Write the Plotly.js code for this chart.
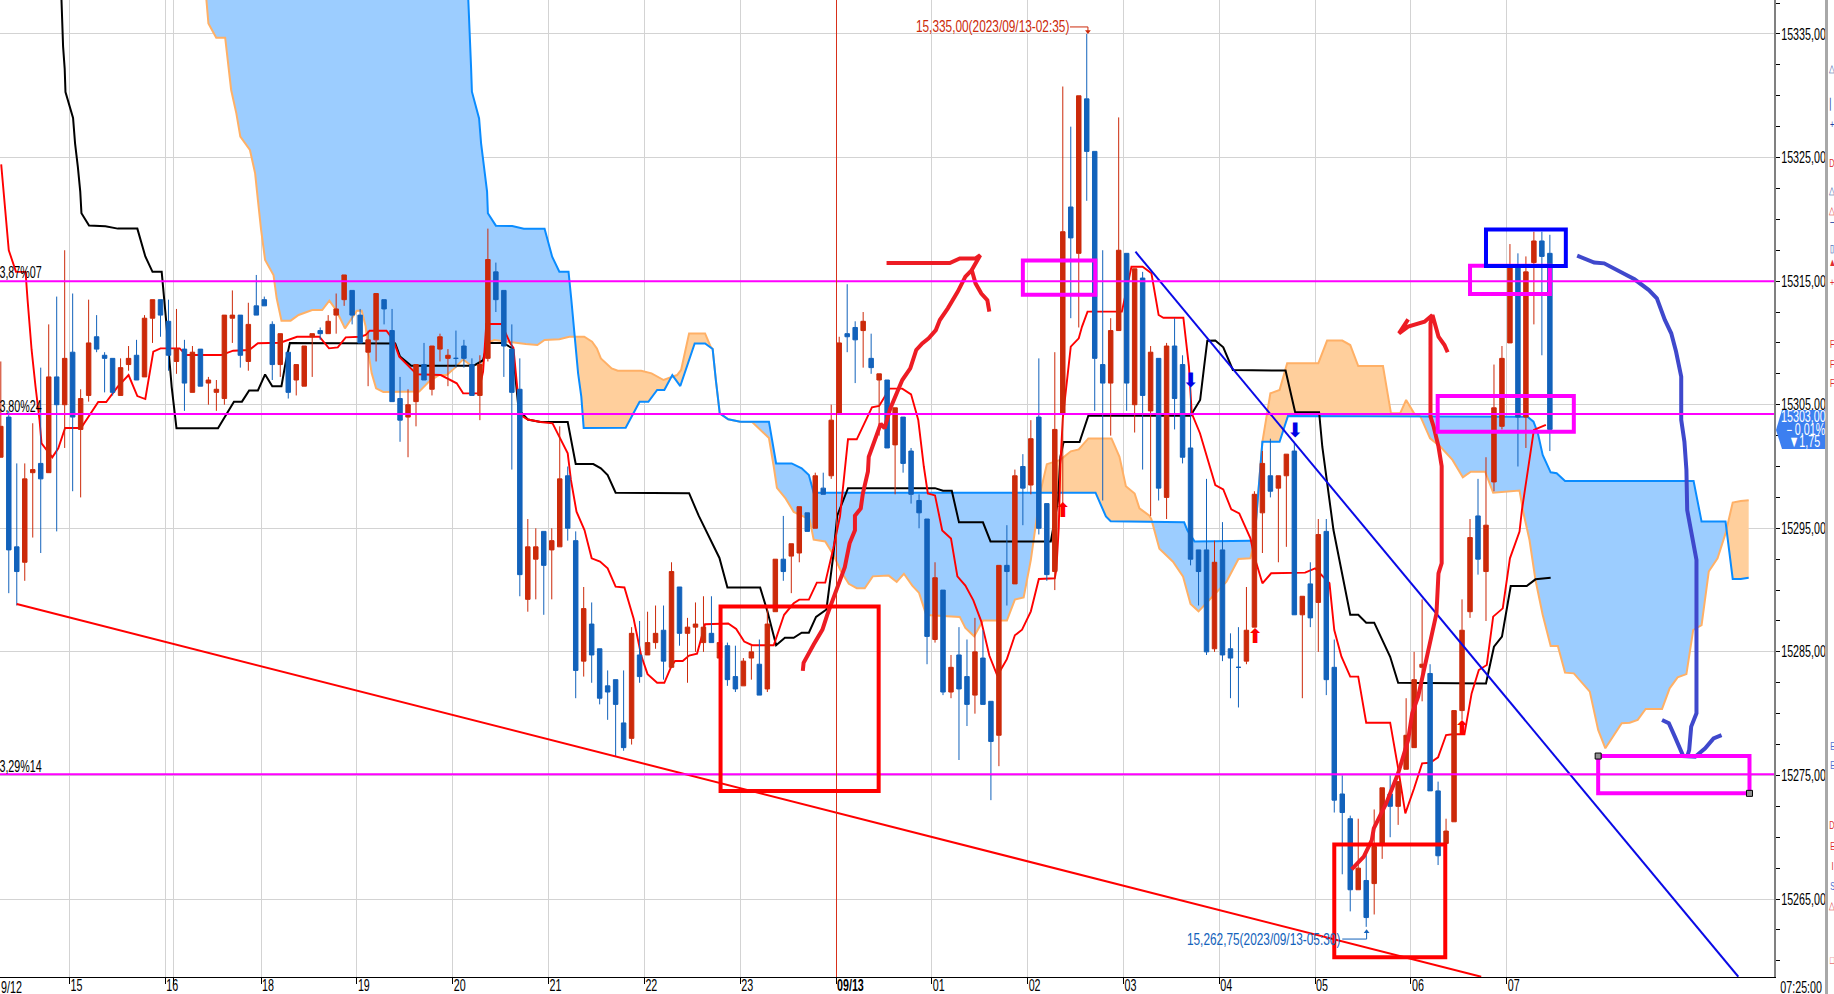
<!DOCTYPE html>
<html><head><meta charset="utf-8">
<script src="https://cdn.plot.ly/plotly-3.0.1.min.js"></script>
<style>html,body{margin:0;padding:0;background:#fff;overflow:hidden}#c{width:1834px;height:994px}</style>
</head><body><div id="c"></div>
<script>
const candleOpen=[15300.75,15304,15293.5,15292.25,15299.5,15300.25,15299.5,15307.25,15305,15309.25,
15303,15305.75,15310.5,15309,15308.75,15305.75,15308.25,15309,15307.25,15312,
15313.5,15311.75,15308.5,15309.5,15306,15309.5,15306.75,15306,15305.5,15312,
15312.25,15308.5,15313,15313.5,15311.5,15308.25,15309.25,15307,15306.5,15310.5,
15311,15310.75,15312.25,15313.5,15314.25,15312.25,15309.25,15310.25,15313.5,15311,
15305.5,15304,15305.25,15308.25,15306.25,15309.5,15308.75,15308.75,15309.75,15308.25,
15305.75,15308.75,15315.75,15314.25,15309.5,15306.25,15289.25,15292.5,15294.75,15293.25,
15293.5,15299.25,15294,15284.25,15287.25,15285.25,15282.25,15282.75,15279.25,15278,
15284.75,15284.75,15285.75,15286.75,15283.75,15290.25,15286.5,15287,15285.75,15286.5,
15284.5,15285.5,15283,15282.25,15284.5,15284,15282,15288.25,15292.5,15292.75,
15293,15296.25,15295,15298.25,15299.25,15304.25,15310.75,15311.25,15311,15308.75,
15307,15307,15301.75,15304,15301.25,15297.25,15295.75,15286,15290,15281.75,
15284.75,15283,15281.5,15284.5,15281,15278.25,15292,15290.5,15300,15298.5,
15304,15297,15291.5,15304.25,15321,15317.25,15329.75,15325.5,15308.25,15306.75,
15311,15317.25,15305,15315.25,15304.5,15308.75,15297.5,15309.75,15308.25,15301.5,
15293.25,15293.25,15285.25,15293.25,15285.25,15283.75,15284.25,15287,15296.25,15299.25,
15298.25,15299.25,15301.25,15288,15290.5,15289,15294.75,15283.75,15273.5,15271.5,
15265.75,15266.5,15266.25,15269.5,15273.5,15272.5,15275.5,15277.25,15283.75,15283.25,
15273.75,15269.5,15271.25,15280.25,15288.25,15296,15291.5,15298.75,15303.25,15310,
15316.25,15304,15316.5,15318.25,15317.25];
const candleHigh=[15308.5,15304.5,15300.25,15300.25,15303.5,15308,15311.5,15313.75,15317.5,15314,
15306.25,15313.5,15312.25,15309.25,15308.75,15308.75,15309.75,15310.25,15312.25,15313.5,
15313.5,15313.5,15312.75,15310.25,15309.75,15309.5,15307.25,15307,15312.25,15314.25,
15312.25,15313.25,15315.5,15313.75,15311.75,15310.75,15309.25,15308.25,15309.75,15310.75,
15311.25,15312.25,15314,15315.5,15314.25,15312.75,15311,15314,15313.5,15312.75,
15307.25,15306.25,15308.25,15310,15309.75,15310.75,15309.5,15311,15310.25,15308.75,
15309,15319.25,15316.5,15314.25,15311.5,15308.75,15295.75,15295,15294.75,15295,
15303.25,15300,15294.75,15290.25,15289,15285.25,15283.5,15282.75,15283.5,15287,
15287.5,15288.25,15288.75,15288.75,15292.25,15290.25,15287.75,15289,15289.5,15289.5,
15285.75,15285.75,15285.5,15284.5,15285.5,15286,15288.5,15292.5,15296,15293.75,
15296.75,15296.25,15299.5,15299.5,15305,15310.5,15314.75,15311.75,15312.5,15310.75,
15307.5,15307,15304.75,15304,15301.5,15297.75,15295.75,15292.25,15290,15284.75,
15287,15286,15287.75,15286.75,15281,15292,15295.25,15299.75,15301,15303.75,
15308.75,15297,15309.25,15330.75,15327.5,15330,15335,15325.5,15317.5,15312,
15328.25,15317.25,15316,15315.75,15309.75,15308.75,15310,15312,15309,15306.75,
15293.25,15299,15294,15295.5,15286.5,15287,15290.25,15298,15301.25,15302.25,
15299.25,15301,15302,15289.5,15292.25,15295.75,15295.75,15286,15275,15271.75,
15271.5,15268.75,15272.25,15274,15275,15274.5,15281.25,15285,15289.25,15284,
15274.5,15271.5,15280.25,15289.25,15295.75,15299,15300.75,15308.25,15309.75,15318,
15317.25,15317,15319,15319,15318.75];
const candleLow=[15300.75,15289.75,15288.75,15290.75,15294.25,15293,15299.5,15294.75,15301.5,15298,
15297.5,15305.25,15309.25,15306,15305.75,15305.75,15307.75,15307,15307.25,15310,
15310.5,15307.75,15307.5,15304.5,15306,15306.5,15305,15304.5,15305,15310,
15308,15307.75,15312.25,15313,15307,15307.25,15305.5,15305.75,15306.5,15307.25,
15310.25,15310.75,15310.75,15313,15311.5,15310,15306.5,15308.5,15311.5,15305.25,
15302,15300.75,15303.25,15307,15305.75,15308.5,15306.5,15308,15308,15305.75,
15303.75,15308.5,15312.5,15307.25,15299.75,15289.5,15288.25,15289.25,15288,15289.25,
15293.5,15294,15281.25,15283,15282.5,15280.75,15279.5,15276.5,15277,15277.5,
15282.5,15284.75,15285.25,15282.75,15283.75,15285.5,15282.5,15285,15285,15285.75,
15284.5,15282.25,15281.75,15282.25,15282.75,15281.5,15281.75,15288.25,15290.75,15289.75,
15292.25,15294.75,15295,15297.75,15299,15304.25,15309.25,15306.75,15308,15307.5,
15302.5,15301.5,15297.75,15299.5,15297,15295,15284,15285.75,15281.5,15281.25,
15276.25,15279,15280,15280.75,15273,15275.75,15288.75,15290.5,15295.25,15297.75,
15294.5,15290.75,15290,15296.75,15312,15311.25,15321.5,15304.5,15297.25,15302.5,
15311,15304.5,15302.75,15299.75,15296,15297.25,15295.75,15303,15300.25,15292,
15288.75,15284.75,15285,15284.25,15281.25,15280.5,15284,15287,15293,15297.5,
15292.25,15293.5,15288,15281.25,15287,15285,15281.5,15272,15267,15264,
15265.75,15262.75,15263.75,15268.25,15270,15271,15275.5,15277.25,15281,15273.75,
15267.75,15269.5,15271.25,15279.5,15287.75,15291.25,15287.5,15298,15303,15310,
15300,15301.5,15311.5,15309,15301.25];
const candleClose=[15303.25,15293.25,15291.5,15299,15299.75,15299,15307.25,15305,15308.75,15304,
15305.5,15310,15309.5,15308.75,15306,15308,15308.75,15307,15312,15313.5,
15312.25,15309,15309.5,15306.75,15309.25,15306.5,15307,15306.25,15312.25,15312.25,
15309,15311.5,15312.25,15313,15308.25,15310.75,15306,15308.25,15309.75,15310.75,
15310.75,15311.75,15312.75,15315.5,15312.25,15310,15310.25,15314,15312.75,15305.25,
15303.75,15305,15308.25,15307,15309.75,15310.5,15309,15308.75,15308.75,15305.75,
15308.25,15316.75,15313.5,15309.75,15306,15291.25,15293.5,15293.5,15292,15294,
15299,15295,15283.5,15288.5,15284.75,15281.25,15281.75,15280.75,15277.25,15286.5,
15283,15285.75,15286.5,15284.25,15291.5,15286.5,15287,15287.25,15287,15285.75,
15285.75,15282.75,15282,15284.25,15285,15281.5,15287.25,15292.5,15291.5,15293.75,
15296.75,15294.75,15299.25,15297.75,15303.75,15310,15310.5,15310.25,15311.75,15308,
15307.5,15301.5,15304.75,15300.25,15297.75,15296.25,15286.25,15291,15281.75,15283.75,
15282,15280.75,15285,15280.75,15277.75,15292,15291.5,15299.25,15298.25,15302.25,
15295,15291.25,15303,15319,15318.5,15330,15325.5,15308.75,15306.75,15311,
15317.5,15306.75,15316,15305.75,15309.25,15298.25,15309.75,15305.5,15300.75,15292.5,
15291.5,15285,15292.25,15284.75,15284.5,15283.75,15286.75,15297.75,15300.25,15298,
15299.25,15301,15288,15289.5,15287.75,15294.5,15282.75,15273,15272,15265.75,
15267.5,15263.5,15269.25,15274,15272.5,15274.5,15278.25,15282.75,15284,15273.75,
15268.5,15270.5,15280.25,15286.75,15294.25,15292.5,15295.25,15304.75,15308.75,15316.25,
15304,15315.75,15318.25,15317,15303];

const kijunBar=[7.6,7.7,7.8,8,8.1,9.05,9.3,9.65,9.95,10.1,11.05,13.1,14.65,17.1,18.1,19,20.15,20.7,21.1,21.4,22,27.2,29.2,30.2,31.1,32.2,33.1,34,35.15,35.65,36.2,48.7,49.4,50,51.4,59.2,60.4,60.95,62.9,64.1,64.5,64.85,66,67.6,71,72,74.2,75.15,76,77,86.2,87.4,90,91,95.1,96,97.1,98.2,99.3,100.3,101.2,102.1,103.4,104.25,104.75,106.1,117,118,119.1,120,123,123.95,131.5,132.4,132.7,133.1,135.1,136.2,149,150.2,150.7,151.1,152.1,153.1,154.3,160.9,162.1,165.1,165.5,166.1,166.9,169,170,171,172,174,175,186,187,188,189.1,191.1,192.2,194.1];
const kijunPrice=[15337.75,15335.8,15334,15332.2,15330.3,15328.2,15326.15,15324.25,15322.25,15320.5,15319.5,15319.45,15319.25,15319.25,15317,15315.75,15315.75,15311.85,15308.35,15306.45,15303.1,15303.1,15305.25,15305.25,15306.15,15306.15,15307.45,15306.5,15306.5,15308.35,15310,15310,15309.96,15308.9,15308.15,15308.15,15308.6,15310,15310,15309.55,15307,15304.6,15303.8,15303.6,15303.6,15300.2,15300.2,15299.85,15299.3,15297.88,15297.84,15296.02,15292.6,15290.2,15290.2,15288.3,15285.54,15286.14,15286.14,15286.55,15286.55,15287.83,15288.43,15292.75,15296.02,15298.25,15298.25,15298.04,15298.04,15295.48,15295.48,15293.94,15293.94,15297.21,15300.78,15301.98,15301.98,15304.11,15304.11,15305.38,15308.08,15310.18,15310.2,15309.65,15307.81,15307.76,15304.39,15304.39,15301.6,15298.64,15294.86,15288,15288,15287.36,15287.36,15284.6,15282.5,15282.45,15285.42,15286.23,15290.33,15290.33,15290.87,15291];

const tenkanBar=[0.05,0.4,0.65,1,1.9,3.1,3.35,3.86,4.35,4.85,5.1,6.45,7.2,8.05,10.05,12.2,13.2,14.65,16,17.1,18.1,18.5,19.1,20,22.4,23.2,27.6,29.1,31.1,32.2,35,37.1,39.9,41.1,42.2,43.2,45.05,45.7,46.2,48.3,49.15,49.9,51.4,52.1,55.1,57.1,57.9,59.8,60.4,60.8,62.7,63.8,64.2,65,66,67.6,69.1,69.95,71,71.4,72.1,73.1,74,75.05,76,77,78.1,79.25,80.2,81,82.2,83.1,84,84.45,85.4,86.2,87.2,88.2,91.1,92.1,93.1,94.1,96.8,98.1,99.3,100,101.2,102.2,103.25,104.25,105.1,106.1,107.2,109.1,110,111.3,112.9,114,114.9,115.6,116.1,117,117.9,119,119.8,120.8,121.8,122.8,123.8,124.8,126,127,127.9,129,130,132,132.2,132.5,132.7,133,134,135,135.4,136.1,140.4,141.6,143,144.1,145,145.6,148.1,148.8,149.15,150.18,151.2,152.1,153.1,154.1,155.1,156.5,157,158,159.1,163.35,164.6,166.4,167,167.9,169,170,171,174,175,175.9,177,178,179,180,181,181.8,183.3,184.2,185.1,186.1,186.9,188.1,189,190.2,190.5,191.2,192,193.2,193.5];
const tenkanPrice=[15324.45,15321.85,15319.4,15317.5,15315.75,15315.75,15313.5,15309.43,15306.46,15303.76,15301.88,15300.74,15301.47,15303.12,15303.12,15305.22,15305.22,15306.46,15307.4,15305.7,15305.46,15307.13,15309.29,15309.56,15309.56,15309.02,15309.02,15309.37,15309.43,15309.97,15310.02,15310.5,15310.5,15309.56,15309.64,15310.45,15310.5,15310.64,15310.99,15310.99,15310.24,15308.89,15307.94,15307.46,15307.4,15306.73,15305.92,15305.92,15307.67,15311.53,15311.53,15309.97,15309.6,15304.2,15303.8,15303.6,15303.49,15302.41,15301.07,15298.91,15296.34,15294.86,15292.57,15292.3,15291.76,15290.28,15290.21,15287.7,15284.7,15283.2,15282.5,15282.5,15283.87,15284.26,15284.26,15284.7,15284.86,15287.24,15287.3,15286.85,15285.84,15285.54,15285.54,15288,15288.93,15289.23,15289.23,15290.6,15290.6,15293.34,15295.96,15302.2,15302.2,15304.79,15304.9,15306.3,15306.3,15305.84,15303.76,15299.98,15297.82,15297.66,15294.83,15294.17,15291.11,15290.36,15289.17,15287.45,15284.7,15283.07,15284.41,15286.34,15286.79,15288.28,15290.9,15290.96,15291.7,15295.13,15300.19,15303.9,15309.7,15310.37,15311.3,15312.53,15312.53,15316.17,15316.17,15315.63,15312.26,15312.04,15312.04,15308.08,15304.3,15302.69,15300.53,15298.5,15298.15,15296.54,15296.21,15294.19,15292.7,15290.55,15291.36,15291.41,15291.76,15290.55,15286.77,15284.61,15283,15283,15279.27,15279.27,15275.57,15271.93,15273.96,15275.98,15276.03,15276.46,15278.27,15278.33,15278.33,15281.64,15283.53,15283.94,15287.85,15288.52,15292.57,15294.73,15296.48,15299.45,15302.96,15303.28,15303.36];

const cloudBlueBar=[25.5,58.4,58.55,58.7,58.8,58.9,59,59.9,60.15,60.5,60.9,61,62,64.05,65.5,68.1,69.05,69.95,71.1,71.45,71.8,72.3,72.7,73,78.26,80,81.1,82.2,83.1,84.1,85.1,86.9,88.2,89.15,89.55,90.04,91.1,92.6,96.2,97.1,99.05,100.3,101.2,101.8,137.1,137.9,138.4,139,144.1,148.2,148.6,149.5,156.5,157,158,160.15,161.2,186.6,191.2,191.95,192.5,193.1,194.1,194.85,195.9,212,213,216,216.9,217.9,218.9];
const cloudBluePrice=[15345,15345,15337.75,15335.86,15333.97,15332.22,15330.33,15328.17,15326.15,15324.26,15322.24,15320.5,15319.49,15319.46,15319.24,15319.24,15316.98,15315.76,15315.76,15313.5,15311.05,15307.54,15305.65,15303.12,15303.14,15305.24,15305.24,15306.19,15306.19,15307.4,15306.51,15309.96,15309.96,15309.51,15307,15304.3,15303.82,15303.63,15303.63,15300.25,15300.25,15299.85,15299.31,15297.88,15297.88,15296.74,15295.96,15295.57,15295.51,15295.48,15294.83,15293.94,15294,15294,15302,15302,15304.09,15304.09,15304.03,15303.63,15302.69,15300.93,15299.53,15299.45,15298.83,15298.83,15295.54,15295.54,15290.9,15290.9,15291];
const cloudOrangeBar=[25.5,25.75,26,26.98,28.1,28.5,28.85,29.5,30,31.2,31.85,32.2,32.6,33.1,34.15,34.55,35.15,36.3,37.3,39,40.25,41.15,42,43.1,44.6,45.2,45.7,46.05,46.45,47,47.9,52.4,53.6,54.85,55.85,56.8,57.9,58.8,60.3,60.8,61.8,65.75,67.2,68.1,69.95,71.2,73.07,74.05,74.65,75.15,76.5,77.27,80.2,81.5,83,84.7,85.2,86.2,88.2,88.9,89.15,89.55,90.04,91.1,92.6,94.1,96.2,96.8,97.2,98.3,99.3,101.3,101.8,103.25,104.25,105.2,106.2,107.2,108.2,109.2,111.2,112.2,113.1,114.15,115,115.9,118.35,120.1,120.8,121.9,123,126,127,128.1,129,129.5,130.2,131,132.7,134,135,136.2,139.1,140.1,140.9,142,142.6,143.85,144.1,145.1,146.8,148.05,149,150,153.5,155,156.5,157,158,159,160.15,161.1,165,166.1,168,169,170,173.1,174.1,175.25,176,177,177.8,179,180.3,181.8,183.1,184.1,185.9,186.9,190.2,190.7,191.45,192.2,193.1,194.1,195,195.9,197,199,200.05,200.95,203,204,205,206,208.05,209,210,211.1,211.95,213,213.9,215,216,216.9,217.9,218.9];
const cloudOrangePrice=[15345,15337.75,15335.86,15334.7,15334.7,15332.6,15330.47,15328.58,15326.69,15325.61,15323.72,15321.56,15319.14,15316.71,15315.5,15313.61,15311.8,15311.8,15312.26,15312.66,15312.66,15313.42,15312.66,15311.18,15312.6,15312.6,15311.32,15309.16,15307.54,15306.33,15306.03,15306.06,15306.86,15307.4,15307.4,15307.94,15308.67,15308.21,15308.21,15309.97,15310.24,15309.91,15309.83,15310.24,15310.29,15310.5,15310.5,15310.1,15309.56,15308.75,15307.94,15307.75,15307.75,15307.54,15307,15307.4,15307.81,15310.77,15310.77,15309.69,15309.51,15307,15304.3,15303.82,15303.63,15303.6,15302.3,15300,15298.27,15297.4,15296.33,15295.72,15294.08,15293.94,15292.89,15291.55,15290.51,15290.15,15290.15,15291.11,15291.17,15290.66,15291.32,15290.36,15289.77,15287.98,15287.89,15287.83,15286.94,15286.26,15287.53,15287.53,15289.23,15289.41,15292.45,15294.83,15297.95,15300.19,15300.54,15301.23,15301.38,15302.27,15302.27,15300.78,15298.4,15297.81,15296.62,15296.02,15295.72,15293.34,15292.3,15291.11,15288.87,15288.28,15290.68,15292.52,15292.57,15294,15302,15305.92,15306.19,15308.35,15308.35,15310.19,15310.19,15309.83,15308.13,15308.13,15304.3,15304.3,15305.38,15304.3,15304.03,15302.28,15301.6,15300.53,15299.12,15299.58,15299.58,15297.88,15298.05,15296.21,15294.05,15290.82,15288,15285.48,15285.48,15283.32,15283.26,15281.78,15278.68,15277.2,15279.22,15279.27,15279.5,15280.38,15280.38,15282.05,15282.94,15283.2,15286.77,15287.17,15291.5,15292.57,15294.59,15297.08,15297.21,15297.26];

const hourBars=[8.6,20.6,21.6,32.6,44.6,56.6,68.6,80.6,92.6,104.6,116.6,128.6,140.6,152.6,164.6,176.6,188.6];
const hourLabels=["15","16","","18","19","20","21","22","23","<b>09/13</b>","01","02","03","04","05","06","07"];
const priceTicks=[15265,15275,15285,15295,15305,15315,15325,15335];
const priceLabels=["15265,00","15275,00","15285,00","15295,00","15305,00","15315,00","15325,00","15335,00"];
const levelPrices=[15315,15304.25,15275.1];
const levelTexts=["3,87%07","3,80%24","3,29%14"];

const redTrendBar=[2,185.4], redTrendPrice=[15288.87,15258.71];
const blueTrendBar=[142.1,217.6], blueTrendPrice=[15317.38,15258.71];
const buyBar=[133,157.1,183], buyPrice=[15296.34,15286.1,15278.7];
const sellBar=[149,162.1], sellPrice=[15306.86,15302.82];

const red1Bar=[100.44,100.54,101.8,102.9,103.5,104.75,105.7,106.3,106.97,106.97,107.7,107.96,108.6,108.7,109.3,110.2,110.68,111.4,112.9,113.9,114.65,115.4,116.2,117.1,117.6,118.6,119.85,120.8,121.6,122.07,122.8,123.55,123.8];
const red1Price=[15283.46,15284.11,15285.6,15286.8,15288,15290.07,15291.85,15293.79,15294.83,15296.02,15296.61,15297.81,15299.59,15300.78,15301.82,15303.46,15303.09,15304.7,15307,15307.94,15309.43,15309.96,15310.37,15311.04,15311.85,15312.8,15314.15,15315.36,15315.9,15314.82,15314,15313.47,15312.53];
const red1HeadBar=[110.93,118.85,120.1,122.07,122.66,121.6], red1HeadPrice=[15316.47,15316.47,15316.84,15316.84,15317.1,15315.9];
const red2Bar=[169.17,170.7,171.7,171.95,173.5,175,176.25,176.76,177.5,178.5,179.1,179.3,179.8,180.05,180.45,180.45,180.05,179.45,179.05,179.05,179.3,180.05,180.8,181.2];
const red2Price=[15267.4,15268.43,15269.77,15270.72,15272.74,15275.17,15277.87,15280.03,15281.37,15284.34,15285.96,15286.5,15288.12,15291.36,15292.17,15300.03,15301.61,15303.22,15304.03,15311.59,15312.26,15310.51,15309.83,15309.24];
const red2HeadBar=[179.3,178.3,176.25,175.1,176.25], red2HeadPrice=[15312.26,15311.72,15311.32,15310.78,15311.9];
const violetBar=[197.42,198.8,199.55,200.8,202.35,204.6,206.4,207.4,208.4,209.2,209.8,210.45,210.45,210.85,211.1,211.2,211.7,212.36,212.36,211.7,211.45,211.2];
const violetPrice=[15317.06,15316.71,15316.5,15316.44,15315.9,15315.15,15314.28,15313.61,15311.86,15310.78,15309.3,15307.27,15303.77,15302.01,15299.72,15296.48,15294.73,15292.44,15280.03,15278.95,15277.06,15276.52];
const violetTailBar=[208.05,208.9,209.65,210.2,210.7,212.2,213.45,214.5,215.5];
const violetTailPrice=[15279.49,15279.22,15278.14,15277.33,15276.57,15276.52,15277.2,15278,15278.27];
const highNoteBar=[133.9,136.15,136.15], highNotePrice=[15335.57,15335.57,15335.2];
const lowNoteBar=[168,171.05,171.05], lowNotePrice=[15261.76,15261.76,15262.35];
const rectRed=[[90.14,109.94,15288.67,15273.75],[167,180.9,15269.42,15260.28]];
const rectMagenta=[[128,137.07,15316.66,15313.9],[184,194,15316.25,15313.96],[179.95,197,15305.71,15302.82],[200.05,219,15276.57,15273.55]];
const rectBlue=[[186,196,15319.17,15316.23]];
const handleBar=[200.05,219], handlePrice=[15276.57,15273.55];
const toolGlyphs=["△","▏","+","D","△","△","─","▯","▲","+","F","F","F","E","E","D","E","I","S","△","□"];
const toolGlyphRows=[68,104,124,163,190,210,222,248,262,282,344,364,383,746,765,825,846,866,886,905,960];
const toolGlyphColors=["#3050a0","#2040a0","#2040a0","#e03030","#3050a0","#e03030","#2040a0","#2040a0","#e03030","#e03030","#e03030","#e03030","#e03030","#5070d0","#5070d0","#e03030","#e03030","#e03030","#5070d0","#e03030","#e03030"];

const PX_W=1774, PX_H=977;
const xRange=[-0.1,222.07], yRange=[15258.69,15337.75];

function interp(xs,ys,x){
  if(x<=xs[0])return ys[0];
  if(x>=xs[xs.length-1])return ys[ys.length-1];
  for(let i=1;i<xs.length;i++){if(x<=xs[i]){const t=(x-xs[i-1])/(xs[i]-xs[i-1]);return ys[i-1]+t*(ys[i]-ys[i-1]);}}
}
const mergedRaw=[...new Set([...cloudBlueBar,...cloudOrangeBar])].sort((a,b)=>a-b);
const merged=[];
for(let i=0;i<mergedRaw.length;i++){
  const x=mergedRaw[i];
  merged.push(x);
  if(i+1<mergedRaw.length){
    const n=mergedRaw[i+1];
    const d0=interp(cloudBlueBar,cloudBluePrice,x)-interp(cloudOrangeBar,cloudOrangePrice,x);
    const d1=interp(cloudBlueBar,cloudBluePrice,n)-interp(cloudOrangeBar,cloudOrangePrice,n);
    if(d0*d1<0){merged.push(x+(n-x)*d0/(d0-d1));}
  }
}
const bAt=merged.map(x=>interp(cloudBlueBar,cloudBluePrice,x));
const oAt=merged.map(x=>interp(cloudOrangeBar,cloudOrangePrice,x));
const upper=merged.map((x,i)=>Math.max(bAt[i],oAt[i]));
const revX=[...merged].reverse();

function line(x,y,color,width,axes){
  return Object.assign({type:'scatter',mode:'lines',x:x,y:y,line:{color:color,width:width,shape:'linear'},hoverinfo:'skip',showlegend:false},axes||{});
}
const over={xaxis:'x2',yaxis:'y2'};
const traces=[
  {type:'scatter',mode:'lines',x:merged.concat(revX),y:upper.concat([...oAt].reverse()),fill:'toself',fillcolor:'#9ccdff',line:{width:0},hoverinfo:'skip',showlegend:false},
  {type:'scatter',mode:'lines',x:merged.concat(revX),y:upper.concat([...bAt].reverse()),fill:'toself',fillcolor:'#ffcf9c',line:{width:0},hoverinfo:'skip',showlegend:false},
  line(cloudOrangeBar,cloudOrangePrice,'#ffb066',2),
  line(cloudBlueBar,cloudBluePrice,'#0a8cff',2),
  line(kijunBar,kijunPrice,'#000000',2),
  line(tenkanBar,tenkanPrice,'#ff0000',1.9),
  {type:'candlestick',xaxis:'x2',yaxis:'y2',x:candleOpen.map((_,i)=>i),open:candleOpen,high:candleHigh,low:candleLow,close:candleClose,
   increasing:{line:{color:'#cc2a0a',width:1},fillcolor:'#cc2a0a'},decreasing:{line:{color:'#1262bb',width:1},fillcolor:'#1262bb'},
   whiskerwidth:0,hoverinfo:'skip',showlegend:false},
  line(redTrendBar,redTrendPrice,'#ff0000',2,over),
  line(blueTrendBar,blueTrendPrice,'#0a0ae6',2,over),
  line(red1Bar,red1Price,'#ed1c24',4,over),
  line(red1HeadBar,red1HeadPrice,'#ed1c24',4,over),
  line(red2Bar,red2Price,'#ed1c24',4,over),
  line(red2HeadBar,red2HeadPrice,'#ed1c24',4,over),
  line(violetBar,violetPrice,'#3f48cc',4,over),
  line(violetTailBar,violetTailPrice,'#3f48cc',4,over),
  line(highNoteBar,highNotePrice,'#cc2a0a',1,over),
  line(lowNoteBar,lowNotePrice,'#1262bb',1,over),
  Object.assign({type:'scatter',mode:'markers',x:[136.15],y:[15335.2],marker:{symbol:'triangle-down',size:5,color:'#cc2a0a'},hoverinfo:'skip',showlegend:false},over),
  Object.assign({type:'scatter',mode:'markers',x:[171.05],y:[15262.35],marker:{symbol:'triangle-up',size:5,color:'#1262bb'},hoverinfo:'skip',showlegend:false},over),
  Object.assign({type:'scatter',mode:'text',x:buyBar,y:buyPrice,text:buyBar.map(()=>'⬆'),textposition:'middle center',textfont:{family:'DejaVu Sans',size:20,color:'#ff0000'},hoverinfo:'skip',showlegend:false},over),
  Object.assign({type:'scatter',mode:'text',x:sellBar,y:sellPrice,text:sellBar.map(()=>'⬇'),textposition:'middle center',textfont:{family:'DejaVu Sans',size:20,color:'#0000e6'},hoverinfo:'skip',showlegend:false},over)
];

const shapes=[];
levelPrices.forEach(p=>shapes.push({type:'line',xref:'paper',yref:'y',x0:0,x1:1,y0:p,y1:p,line:{color:'#ff00ff',width:2},layer:'above'}));
shapes.push({type:'line',xref:'x',yref:'paper',x0:104.66,x1:104.66,y0:0,y1:1,line:{color:'#d8301a',width:1},layer:'above'});
function addRects(list,color){list.forEach(r=>shapes.push({type:'rect',xref:'x',yref:'y',x0:r[0],x1:r[1],y0:r[2],y1:r[3],line:{color:color,width:4},fillcolor:'rgba(0,0,0,0)',layer:'above'}));}
addRects(rectRed,'#ff0000');addRects(rectMagenta,'#ff00ff');addRects(rectBlue,'#0000ff');
handleBar.forEach((b,i)=>shapes.push({type:'rect',xref:'x',yref:'y',xsizemode:'pixel',ysizemode:'pixel',xanchor:b,yanchor:handlePrice[i],x0:-3,x1:3,y0:-3,y1:3,line:{color:'#000',width:1},fillcolor:'#909090',layer:'above'}));
const fx=p=>p/PX_W, fy=p=>1-p/PX_H;
shapes.push({type:'path',xref:'paper',yref:'paper',path:`M${fx(1776)},${fy(430)} L${fx(1782)},${fy(410)} L${fx(1825)},${fy(410)} L${fx(1825)},${fy(449)} L${fx(1782)},${fy(449)} Z`,fillcolor:'#3c7ff0',line:{width:0},layer:'above'});
shapes.push({type:'rect',xref:'paper',yref:'paper',x0:fx(1825),x1:fx(1828),y0:fy(994),y1:fy(0),fillcolor:'#a8a8a8',line:{width:0},layer:'above'});

const FONT='"Liberation Sans",sans-serif';
function ann(text,cx,py,color,size){return {xref:'paper',yref:'paper',x:fx(cx),y:fy(py),text:text,showarrow:false,xanchor:'center',yanchor:'middle',font:{family:FONT,size:size||16,color:color||'#000'},borderpad:0,borderwidth:0};}
const annotations=[
  ann('15,335,00(2023/09/13-02:35)',992,27,'#cc2a0a'),
  ann('15,262,75(2023/09/13-05:30)',1263.5,939,'#1262bb'),
  ann('15303,00',1803,417,'#fff'),
  ann('－0,01%',1804,429,'#fff'),
  ann('▼1,75',1804,442,'#fff'),
  ann('07:25:00',1801,987,'#000'),
  ann('9/12',11,987,'#000'),
  ann(levelTexts[0],20,272,'#000'),
  ann(levelTexts[1],20,406,'#000'),
  ann(levelTexts[2],20,766,'#000')
];
toolGlyphs.forEach((g,i)=>annotations.push(ann(g,1832,toolGlyphRows[i],toolGlyphColors[i],11)));

const layout={
  width:1834,height:994,autosize:false,paper_bgcolor:'#fff',plot_bgcolor:'#fff',showlegend:false,
  margin:{l:0,r:60,t:0,b:17,pad:0},boxgap:0.2,boxmode:'overlay',
  font:{family:FONT,size:16,color:'#000'},
  xaxis:{type:'linear',range:xRange,fixedrange:true,tickmode:'array',tickvals:hourBars,ticktext:hourLabels,ticks:'outside',ticklen:6,tickwidth:1,tickcolor:'#000',
    showgrid:true,gridcolor:'#d3d3d3',gridwidth:1,zeroline:false,showline:true,linecolor:'#000',linewidth:1,ticklabelposition:'outside right',ticklabelstandoff:-6,tickangle:0,rangeslider:{visible:false}},
  yaxis:{type:'linear',range:yRange,fixedrange:true,side:'right',tickmode:'array',tickvals:priceTicks,ticktext:priceLabels,ticks:'outside',ticklen:4,tickwidth:1,tickcolor:'#000',ticklabelstandoff:-2,
    showgrid:true,gridcolor:'#d3d3d3',gridwidth:1,zeroline:false,showline:true,linecolor:'#808080',linewidth:2,
    minor:{dtick:2.5,tick0:15265,ticks:'outside',ticklen:4,tickwidth:1,tickcolor:'#000',showgrid:false}},
  xaxis2:{type:'linear',overlaying:'x',range:xRange,fixedrange:true,visible:false,rangeslider:{visible:false}},
  yaxis2:{type:'linear',overlaying:'y',range:yRange,fixedrange:true,visible:false},
  shapes:shapes,annotations:annotations
};
Plotly.newPlot('c',traces,layout,{displayModeBar:false,staticPlot:true}).then(()=>{
  document.querySelectorAll('.xtick text,.ytick text,.annotation-text').forEach(t=>{
    const w=t.getComputedTextLength();
    if(w>0){
      const k=t.textContent.length>20?0.74:0.67;
      t.setAttribute('textLength',(w*k).toFixed(1));t.setAttribute('lengthAdjust','spacingAndGlyphs');
    }
  });
});
</script></body></html>
